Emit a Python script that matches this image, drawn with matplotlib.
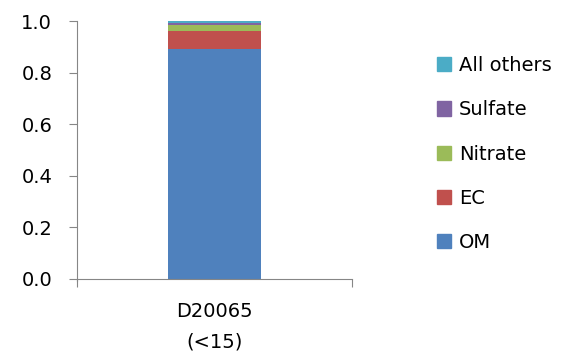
import numpy as np
import matplotlib.pyplot as plt
from matplotlib.patches import Patch

plt.rcParams['font.family'] = ['DejaVu Sans']

# composition fractions for the one sample
categories = ['D20065\n(<15)']
species = ['OM', 'EC', 'Nitrate', 'Sulfate', 'All others']
fractions = [0.891, 0.070, 0.024, 0.007, 0.008]
colors = ['#4F81BD', '#C0504D', '#9BBB59', '#8064A2', '#4BACC6']

fig = plt.figure(figsize=(5.63, 3.57), dpi=100)
ax = fig.add_axes([0.137, 0.219, 0.488, 0.721])

x = np.arange(len(categories))
bottom = np.zeros(len(categories))
for name, val, c in zip(species, fractions, colors):
    ax.bar(x, [val], width=0.335, bottom=bottom, color=c, label=name)
    bottom += val

ax.set_xlim(-0.5, 0.5)
ax.set_ylim(0, 1.0)
ax.set_yticks(np.arange(0, 1.01, 0.2))
ax.set_yticklabels(['%.1f' % v for v in np.arange(0, 1.01, 0.2)], fontsize=14)

# category labels sit between boundary ticks
ax.set_xticks([-0.5, 0.5])
ax.set_xticklabels(['', ''])
ax.set_xticks(x, minor=True)
ax.set_xticklabels(categories, minor=True, fontsize=14, linespacing=1.75)
ax.tick_params(axis='x', which='minor', length=0, pad=17)
ax.tick_params(axis='x', which='major', length=6, direction='out', color='#868686')
ax.tick_params(axis='y', length=6, direction='out', color='#868686', pad=12)

for s in ['top', 'right']:
    ax.spines[s].set_visible(False)
for s in ['left', 'bottom']:
    ax.spines[s].set_color('#868686')
ax.spines['left'].set_bounds(-0.01, 1.0)

handles = [Patch(color=c, label=n) for n, c in zip(species, colors)][::-1]
fig.legend(handles=handles, loc='upper left', bbox_to_anchor=(0.762, 0.865),
           frameon=False, fontsize=14, handlelength=0.75, handleheight=0.75,
           handletextpad=0.4, labelspacing=1.3, borderaxespad=0)

fig.savefig('out.png', dpi=100)
